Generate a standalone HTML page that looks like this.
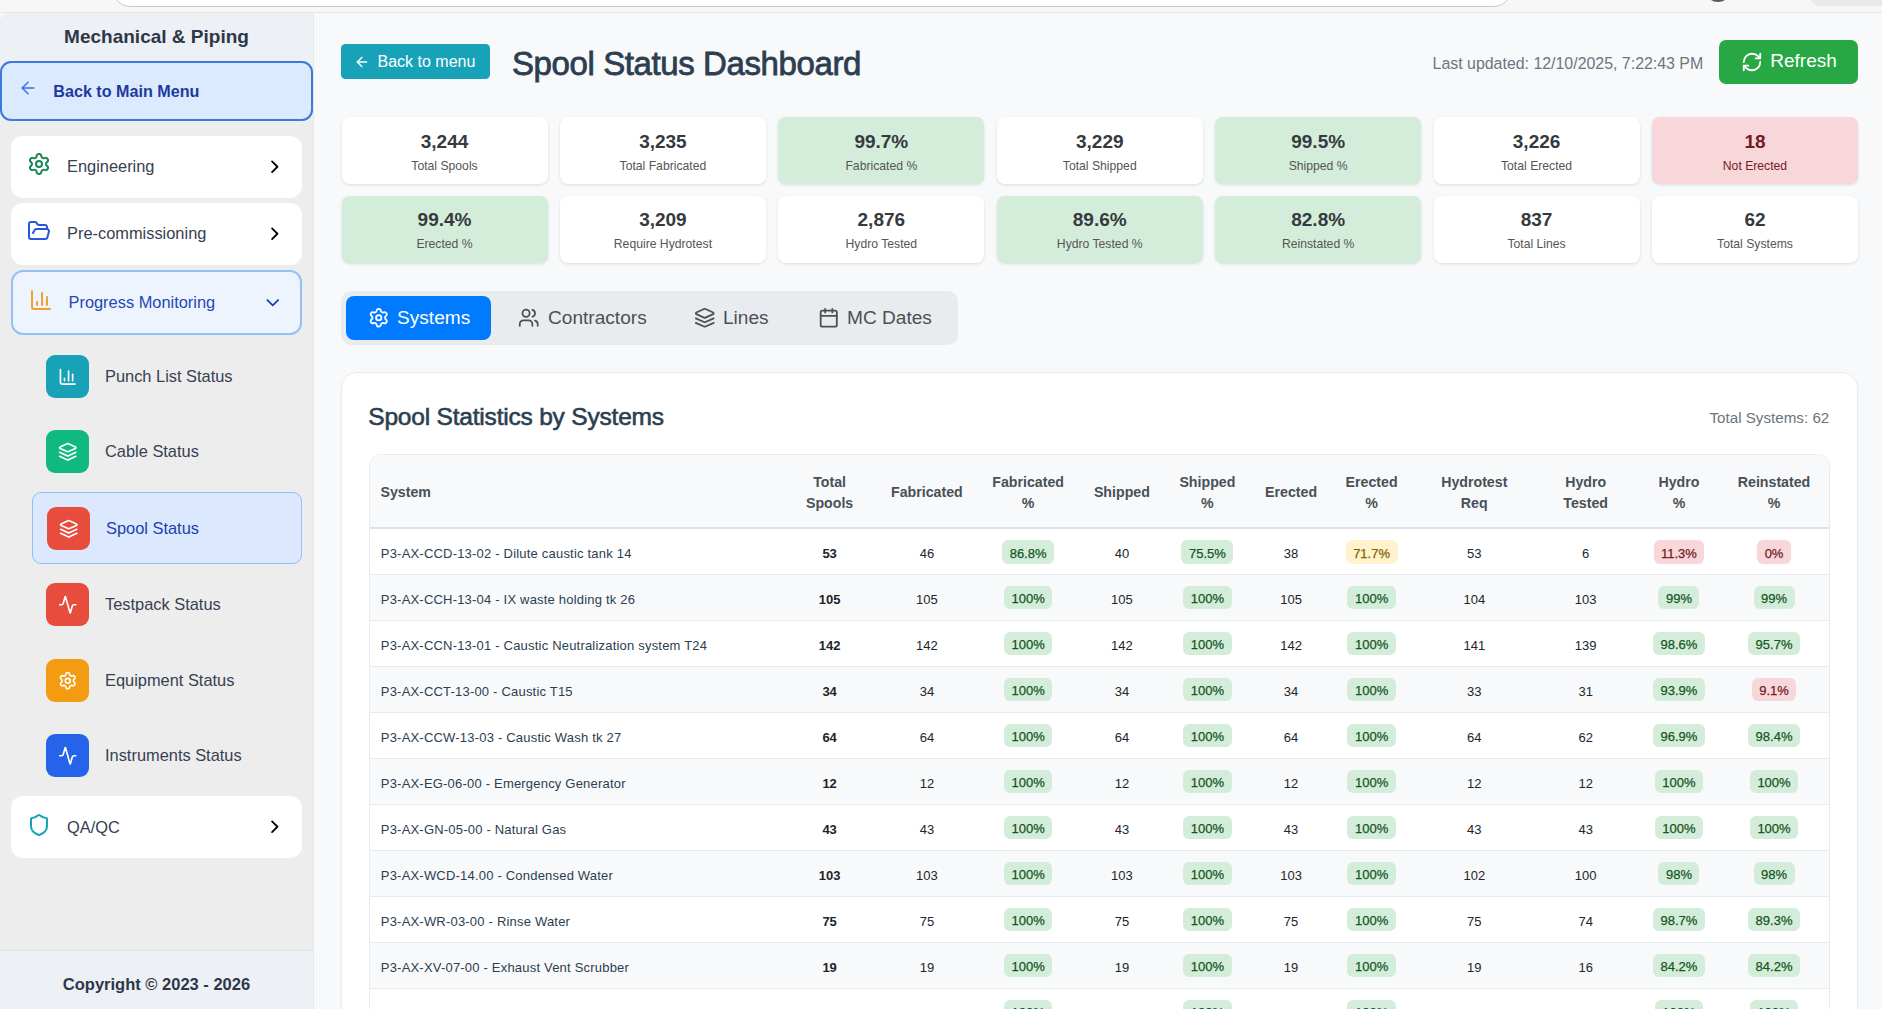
<!DOCTYPE html>
<html><head><meta charset="utf-8"><title>Spool Status Dashboard</title>
<style>
*{box-sizing:border-box;margin:0;padding:0}
html,body{width:1882px;height:1009px;overflow:hidden}
body{font-family:"Liberation Sans",sans-serif;background:#f8f9fa;position:relative;color:#2c3e50}
svg{display:block;position:absolute}
.a{position:absolute;white-space:nowrap}
/* top strip */
#top{position:absolute;left:0;top:0;width:1882px;height:13px;background:#f7f7f7;border-bottom:1px solid #e4e5e7}
#search{position:absolute;left:113px;top:-30px;width:1398px;height:37px;background:#fff;border:1.5px solid #c9c9c9;border-radius:17px}
#dot{position:absolute;left:1705.25px;top:-24px;width:25.5px;height:25.5px;border-radius:50%;background:#5a5a5a}
#pill{position:absolute;left:1809px;top:-20px;width:90px;height:26px;border-radius:12px;background:#e9e9e9}
/* sidebar */
#side{position:absolute;left:0;top:13px;width:314px;height:996px;background:#ededed;border-top-left-radius:9px;border-right:1px solid #e5e7ea;overflow:hidden}
#sidehead{position:absolute;left:0;top:0;width:313px;height:108px;background:#edf0f4}
#sidefoot{position:absolute;left:0;top:937px;width:313px;height:60px;background:#edf0f4;border-top:1px solid #dfe3e8}
#sidetitle{left:0;top:26.3px;width:313px;text-align:center;font-weight:bold;font-size:19px;color:#2d3748}
#backmain{position:absolute;left:0;top:61px;width:313px;height:60px;background:#dbeafe;border:2px solid #3b7ad9;border-radius:11px}
#backmain-t{left:53.3px;top:81.5px;font-weight:bold;font-size:16.15px;color:#1e3a9e}
.card{position:absolute;left:11px;width:291px;height:62px;background:#fff;border-radius:12px}
#pm{background:#eef4fe;border:2px solid #93c0f5;height:65px}
.lbl{font-size:16.4px;color:#374151;margin-top:-1.2px}
.sbox{position:absolute;width:43px;height:43px;border-radius:9px}
#spoolitem{position:absolute;left:32px;top:492px;width:270px;height:72px;background:#dbe8fd;border:1px solid #93c0f5;border-radius:9px}
#copy{left:0;top:975px;width:313px;text-align:center;font-weight:bold;font-size:16.5px;color:#2d3748}

/* main header */
#btnback{position:absolute;left:341px;top:44px;width:149px;height:35px;background:#17a2b8;border-radius:4.5px}
#btnback-t{left:377.5px;top:53px;font-size:16px;color:#fff}
#title{left:512px;top:44.5px;font-size:33px;letter-spacing:-0.4px;color:#2c3e50;-webkit-text-stroke:0.8px #2c3e50}
#upd{left:1432.6px;top:54.8px;font-size:15.92px;color:#6c757d}
#refresh{position:absolute;left:1719px;top:40px;width:139px;height:44px;background:#28a745;border-radius:7px}
#refresh-t{left:1770.3px;top:50px;font-size:19px;color:#fff}
/* stats */
#stats{position:absolute;left:341.5px;top:117px;width:1516.5px;display:grid;grid-template-columns:repeat(7,1fr);column-gap:12.4px;row-gap:11.8px}
.st{height:67px;background:#fff;border-radius:8px;box-shadow:0 1px 3px rgba(0,0,0,0.12);text-align:center;position:relative}
.st.g{background:#d4edda}
.st.r{background:#f8d7da}
.st .v{position:absolute;left:0;right:0;top:13.5px;font-weight:bold;font-size:19px;color:#343a40}
.st.r .v{color:#721c24}
.st .l{position:absolute;left:0;right:0;top:41.5px;font-size:12.2px;color:#555}
.st.r .l{color:#721c24}
/* tabs */
#tabs{position:absolute;left:341px;top:291px;width:617px;height:54px;background:#e9ecef;border-radius:10px}
#tabact{position:absolute;left:346px;top:296px;width:145px;height:44px;background:#007bff;border-radius:8px}
.tt{font-size:19.1px;color:#495057;top:307px}

/* table card */
#tcard{position:absolute;left:341px;top:372px;width:1517px;height:700px;background:#fff;border:1px solid #e9ecef;border-radius:16px;box-shadow:0 1px 3px rgba(0,0,0,0.04)}
#ttitle{left:368.3px;top:403.3px;font-size:24.5px;letter-spacing:-0.2px;color:#2c3e50;-webkit-text-stroke:0.6px #2c3e50}
#tcount{right:52.7px;top:409px;font-size:15.2px;color:#6c757d}
#twrap{position:absolute;left:369px;top:454px;width:1461px;height:600px;border:1px solid #e9ecef;border-radius:12px;overflow:hidden;background:#fff}
table{border-collapse:collapse;table-layout:fixed;width:1459px}
th{height:73px;background:#f8f9fa;border-bottom:2px solid #dee2e6;font-weight:bold;font-size:14.2px;line-height:20.3px;color:#495057;text-align:center;vertical-align:middle;padding:3px 0 0 0}
th.s{text-align:left;padding-left:10.5px}
td{height:46px;border-bottom:1px solid #e9ecef;font-size:13px;color:#212529;text-align:center;vertical-align:middle;padding:4.4px 0 0 0}
td.s{text-align:left;padding-left:10.8px;color:#2c3e50;letter-spacing:0.2px}
td.b{font-weight:bold}
tr:nth-child(even) td{background:#f8f9fa}
.bd{display:inline-block;padding:5.5px 7.5px 2px;border-radius:6px;font-weight:normal;-webkit-text-stroke:0.25px currentColor;font-size:13px;line-height:16px;position:relative;top:-1.5px}
.bd.g{background:#d4edda;color:#155724}
.bd.y{background:#fff3cd;color:#856404}
.bd.r{background:#f8d7da;color:#721c24}
</style></head>
<body>
<div id="top"><div id="search"></div><div id="dot"></div><div id="pill"></div></div>

<div id="side"><div id="sidehead"></div><div id="sidefoot"></div></div>
<div class="a" id="sidetitle">Mechanical &amp; Piping</div>
<div id="backmain"></div>
<svg style="left:17.5px;top:78.4px" width="20" height="20" viewBox="0 0 24 24" fill="none" stroke="#3b6fd8" stroke-width="1.8" stroke-linecap="round" stroke-linejoin="round"><path d="m12 19-7-7 7-7"/><path d="M19 12H5"/></svg>
<div class="a" id="backmain-t">Back to Main Menu</div>

<!-- Engineering -->
<div class="card" style="top:136px"></div>
<svg style="left:27px;top:152px" width="24" height="24" viewBox="0 0 24 24" fill="none" stroke="#198754" stroke-width="2" stroke-linecap="round" stroke-linejoin="round"><path d="M9.671 4.136a2.34 2.34 0 0 1 4.659 0 2.34 2.34 0 0 0 3.319 1.915 2.34 2.34 0 0 1 2.33 4.033 2.34 2.34 0 0 0 0 3.831 2.34 2.34 0 0 1-2.33 4.033 2.34 2.34 0 0 0-3.319 1.915 2.34 2.34 0 0 1-4.659 0 2.34 2.34 0 0 0-3.32-1.915 2.34 2.34 0 0 1-2.33-4.033 2.34 2.34 0 0 0 0-3.831A2.34 2.34 0 0 1 6.35 6.051a2.34 2.34 0 0 0 3.319-1.915"/><circle cx="12" cy="12" r="3"/></svg>
<div class="a lbl" style="left:67px;top:158px">Engineering</div>
<svg style="left:263.85px;top:155.85px" width="21.5" height="21.5" viewBox="0 0 24 24" fill="none" stroke="#000" stroke-width="2" stroke-linecap="round" stroke-linejoin="round"><path d="m9 18 6-6-6-6"/></svg>

<!-- Pre-commissioning -->
<div class="card" style="top:203px"></div>
<svg style="left:27px;top:219px" width="24" height="24" viewBox="0 0 24 24" fill="none" stroke="#2558d8" stroke-width="2" stroke-linecap="round" stroke-linejoin="round"><path d="m6 14 1.5-2.9A2 2 0 0 1 9.24 10H20a2 2 0 0 1 1.94 2.5l-1.54 6a2 2 0 0 1-1.95 1.5H4a2 2 0 0 1-2-2V5a2 2 0 0 1 2-2h3.9a2 2 0 0 1 1.69.9l.81 1.2a2 2 0 0 0 1.67.9H18a2 2 0 0 1 2 2v2"/></svg>
<div class="a lbl" style="left:67px;top:225px">Pre-commissioning</div>
<svg style="left:263.85px;top:222.85px" width="21.5" height="21.5" viewBox="0 0 24 24" fill="none" stroke="#000" stroke-width="2" stroke-linecap="round" stroke-linejoin="round"><path d="m9 18 6-6-6-6"/></svg>

<!-- Progress Monitoring -->
<div class="card" id="pm" style="top:270px"></div>
<svg style="left:29px;top:288px" width="24" height="24" viewBox="0 0 24 24" fill="none" stroke="#f0a030" stroke-width="2" stroke-linecap="round" stroke-linejoin="round"><path d="M3 3v16a2 2 0 0 0 2 2h16"/><path d="M18 17V9"/><path d="M13 17V5"/><path d="M8 17v-3"/></svg>
<div class="a lbl" style="left:68.5px;top:294px;color:#2447b8">Progress Monitoring</div>
<svg style="left:262.05px;top:292px" width="21.5" height="21.5" viewBox="0 0 24 24" fill="none" stroke="#1e40af" stroke-width="2" stroke-linecap="round" stroke-linejoin="round"><path d="m6 9 6 6 6-6"/></svg>

<!-- sub items -->
<div class="sbox" style="left:46px;top:355px;background:#17a2b8"></div>
<svg style="left:58px;top:367px" width="19.5" height="19.5" viewBox="0 0 24 24" fill="none" stroke="#fff" stroke-width="2" stroke-linecap="round" stroke-linejoin="round"><path d="M3 3v16a2 2 0 0 0 2 2h16"/><path d="M18 17V9"/><path d="M13 17V5"/><path d="M8 17v-3"/></svg>
<div class="a lbl" style="left:105px;top:368px">Punch List Status</div>

<div class="sbox" style="left:46px;top:430px;background:#10b981"></div>
<svg style="left:57.7px;top:441.7px" width="19.5" height="19.5" viewBox="0 0 24 24" fill="none" stroke="#fff" stroke-width="2" stroke-linecap="round" stroke-linejoin="round"><path d="m12.83 2.18a2 2 0 0 0-1.66 0L2.6 6.08a1 1 0 0 0 0 1.83l8.58 3.91a2 2 0 0 0 1.66 0l8.58-3.9a1 1 0 0 0 0-1.83Z"/><path d="m22 17.65-9.17 4.16a2 2 0 0 1-1.66 0L2 17.65"/><path d="m22 12.65-9.17 4.16a2 2 0 0 1-1.66 0L2 12.65"/></svg>
<div class="a lbl" style="left:105px;top:443.5px">Cable Status</div>

<div id="spoolitem"></div>
<div class="sbox" style="left:47px;top:507px;background:#e74c3c"></div>
<svg style="left:58.7px;top:518.7px" width="19.5" height="19.5" viewBox="0 0 24 24" fill="none" stroke="#fff" stroke-width="2" stroke-linecap="round" stroke-linejoin="round"><path d="m12.83 2.18a2 2 0 0 0-1.66 0L2.6 6.08a1 1 0 0 0 0 1.83l8.58 3.91a2 2 0 0 0 1.66 0l8.58-3.9a1 1 0 0 0 0-1.83Z"/><path d="m22 17.65-9.17 4.16a2 2 0 0 1-1.66 0L2 17.65"/><path d="m22 12.65-9.17 4.16a2 2 0 0 1-1.66 0L2 12.65"/></svg>
<div class="a lbl" style="left:106px;top:520px;color:#1e40af">Spool Status</div>

<div class="sbox" style="left:46px;top:583px;background:#e74c3c"></div>
<svg style="left:57.7px;top:594.7px" width="19.5" height="19.5" viewBox="0 0 24 24" fill="none" stroke="#fff" stroke-width="2" stroke-linecap="round" stroke-linejoin="round"><path d="M22 12h-2.48a2 2 0 0 0-1.93 1.46l-2.35 8.36a.25.25 0 0 1-.48 0L9.24 2.18a.25.25 0 0 0-.48 0l-2.35 8.36A2 2 0 0 1 4.49 12H2"/></svg>
<div class="a lbl" style="left:105px;top:596px">Testpack Status</div>

<div class="sbox" style="left:46px;top:659px;background:#f39c12"></div>
<svg style="left:57.7px;top:670.7px" width="19.5" height="19.5" viewBox="0 0 24 24" fill="none" stroke="#fff" stroke-width="2" stroke-linecap="round" stroke-linejoin="round"><path d="M9.671 4.136a2.34 2.34 0 0 1 4.659 0 2.34 2.34 0 0 0 3.319 1.915 2.34 2.34 0 0 1 2.33 4.033 2.34 2.34 0 0 0 0 3.831 2.34 2.34 0 0 1-2.33 4.033 2.34 2.34 0 0 0-3.319 1.915 2.34 2.34 0 0 1-4.659 0 2.34 2.34 0 0 0-3.32-1.915 2.34 2.34 0 0 1-2.33-4.033 2.34 2.34 0 0 0 0-3.831A2.34 2.34 0 0 1 6.35 6.051a2.34 2.34 0 0 0 3.319-1.915"/><circle cx="12" cy="12" r="3"/></svg>
<div class="a lbl" style="left:105px;top:672px">Equipment Status</div>

<div class="sbox" style="left:46px;top:734px;background:#2563eb"></div>
<svg style="left:57.7px;top:745.7px" width="19.5" height="19.5" viewBox="0 0 24 24" fill="none" stroke="#fff" stroke-width="2" stroke-linecap="round" stroke-linejoin="round"><path d="M22 12h-2.48a2 2 0 0 0-1.93 1.46l-2.35 8.36a.25.25 0 0 1-.48 0L9.24 2.18a.25.25 0 0 0-.48 0l-2.35 8.36A2 2 0 0 1 4.49 12H2"/></svg>
<div class="a lbl" style="left:105px;top:747.3px">Instruments Status</div>

<!-- QA/QC -->
<div class="card" style="top:796px"></div>
<svg style="left:27px;top:813px" width="24" height="24" viewBox="0 0 24 24" fill="none" stroke="#17a2b8" stroke-width="2" stroke-linecap="round" stroke-linejoin="round"><path d="M20 13c0 5-3.5 7.5-7.66 8.95a1 1 0 0 1-.67-.01C7.5 20.5 4 18 4 13V6a1 1 0 0 1 1-1c2 0 4.5-1.2 6.24-2.72a1.17 1.17 0 0 1 1.52 0C14.51 3.81 17 5 19 5a1 1 0 0 1 1 1z"/></svg>
<div class="a lbl" style="left:67px;top:819.5px">QA/QC</div>
<svg style="left:263.85px;top:816.15px" width="21.5" height="21.5" viewBox="0 0 24 24" fill="none" stroke="#000" stroke-width="2" stroke-linecap="round" stroke-linejoin="round"><path d="m9 18 6-6-6-6"/></svg>

<div class="a" id="copy">Copyright © 2023 - 2026</div>

<!-- MAIN -->

<div id="btnback"></div>
<svg style="left:353.8px;top:54.2px" width="16" height="16" viewBox="0 0 24 24" fill="none" stroke="#fff" stroke-width="2" stroke-linecap="round" stroke-linejoin="round"><path d="m12 19-7-7 7-7"/><path d="M19 12H5"/></svg>
<div class="a" id="btnback-t">Back to menu</div>
<div class="a" id="title">Spool Status Dashboard</div>
<div class="a" id="upd">Last updated: 12/10/2025, 7:22:43 PM</div>
<div id="refresh"></div>
<svg style="left:1741px;top:51px" width="22" height="22" viewBox="0 0 24 24" fill="none" stroke="#fff" stroke-width="2" stroke-linecap="round" stroke-linejoin="round"><path d="M3 12a9 9 0 0 1 9-9 9.75 9.75 0 0 1 6.74 2.74L21 8"/><path d="M21 3v5h-5"/><path d="M21 12a9 9 0 0 1-9 9 9.75 9.75 0 0 1-6.74-2.74L3 16"/><path d="M8 16H3v5"/></svg>
<div class="a" id="refresh-t">Refresh</div>

<div id="stats">
<div class="st"><div class="v">3,244</div><div class="l">Total Spools</div></div>
<div class="st"><div class="v">3,235</div><div class="l">Total Fabricated</div></div>
<div class="st g"><div class="v">99.7%</div><div class="l">Fabricated %</div></div>
<div class="st"><div class="v">3,229</div><div class="l">Total Shipped</div></div>
<div class="st g"><div class="v">99.5%</div><div class="l">Shipped %</div></div>
<div class="st"><div class="v">3,226</div><div class="l">Total Erected</div></div>
<div class="st r"><div class="v">18</div><div class="l">Not Erected</div></div>
<div class="st g"><div class="v">99.4%</div><div class="l">Erected %</div></div>
<div class="st"><div class="v">3,209</div><div class="l">Require Hydrotest</div></div>
<div class="st"><div class="v">2,876</div><div class="l">Hydro Tested</div></div>
<div class="st g"><div class="v">89.6%</div><div class="l">Hydro Tested %</div></div>
<div class="st g"><div class="v">82.8%</div><div class="l">Reinstated %</div></div>
<div class="st"><div class="v">837</div><div class="l">Total Lines</div></div>
<div class="st"><div class="v">62</div><div class="l">Total Systems</div></div>
</div>

<div id="tabs"></div>
<div id="tabact"></div>
<svg style="left:368px;top:307.3px" width="21.5" height="21.5" viewBox="0 0 24 24" fill="none" stroke="#fff" stroke-width="2" stroke-linecap="round" stroke-linejoin="round"><path d="M9.671 4.136a2.34 2.34 0 0 1 4.659 0 2.34 2.34 0 0 0 3.319 1.915 2.34 2.34 0 0 1 2.33 4.033 2.34 2.34 0 0 0 0 3.831 2.34 2.34 0 0 1-2.33 4.033 2.34 2.34 0 0 0-3.319 1.915 2.34 2.34 0 0 1-4.659 0 2.34 2.34 0 0 0-3.32-1.915 2.34 2.34 0 0 1-2.33-4.033 2.34 2.34 0 0 0 0-3.831A2.34 2.34 0 0 1 6.35 6.051a2.34 2.34 0 0 0 3.319-1.915"/><circle cx="12" cy="12" r="3"/></svg>
<div class="a tt" style="left:397px;color:#fff">Systems</div>
<svg style="left:518px;top:307px" width="21.5" height="21.5" viewBox="0 0 24 24" fill="none" stroke="#495057" stroke-width="2" stroke-linecap="round" stroke-linejoin="round"><path d="M16 21v-2a4 4 0 0 0-4-4H6a4 4 0 0 0-4 4v2"/><circle cx="9" cy="7" r="4"/><path d="M22 21v-2a4 4 0 0 0-3-3.87"/><path d="M16 3.13a4 4 0 0 1 0 7.75"/></svg>
<div class="a tt" style="left:548px">Contractors</div>
<svg style="left:694px;top:307px" width="21.5" height="21.5" viewBox="0 0 24 24" fill="none" stroke="#495057" stroke-width="2" stroke-linecap="round" stroke-linejoin="round"><path d="m12.83 2.18a2 2 0 0 0-1.66 0L2.6 6.08a1 1 0 0 0 0 1.83l8.58 3.91a2 2 0 0 0 1.66 0l8.58-3.9a1 1 0 0 0 0-1.83Z"/><path d="m22 17.65-9.17 4.16a2 2 0 0 1-1.66 0L2 17.65"/><path d="m22 12.65-9.17 4.16a2 2 0 0 1-1.66 0L2 12.65"/></svg>
<div class="a tt" style="left:723px">Lines</div>
<svg style="left:818px;top:307px" width="21.5" height="21.5" viewBox="0 0 24 24" fill="none" stroke="#495057" stroke-width="2" stroke-linecap="round" stroke-linejoin="round"><rect width="18" height="18" x="3" y="4" rx="2"/><path d="M16 2v4"/><path d="M8 2v4"/><path d="M3 10h18"/></svg>
<div class="a tt" style="left:847px">MC Dates</div>

<div id="tcard"></div>
<div class="a" id="ttitle">Spool Statistics by Systems</div>
<div class="a" id="tcount">Total Systems: 62</div>
<div id="twrap"><table><colgroup><col style="width:407.5px"><col style="width:104.2px"><col style="width:90.4px"><col style="width:112px"><col style="width:75.6px"><col style="width:95.4px"><col style="width:72px"><col style="width:89px"><col style="width:116.4px"><col style="width:106.4px"><col style="width:80.2px"><col style="width:109.9px"></colgroup>
<thead><tr><th class=s>System</th><th>Total<br>Spools</th><th>Fabricated</th><th>Fabricated<br>%</th><th>Shipped</th><th>Shipped<br>%</th><th>Erected</th><th>Erected<br>%</th><th>Hydrotest<br>Req</th><th>Hydro<br>Tested</th><th>Hydro<br>%</th><th>Reinstated<br>%</th></tr></thead>
<tbody>
<tr><td class="s">P3-AX-CCD-13-02 - Dilute caustic tank 14</td><td class="b">53</td><td>46</td><td><span class="bd g">86.8%</span></td><td>40</td><td><span class="bd g">75.5%</span></td><td>38</td><td><span class="bd y">71.7%</span></td><td>53</td><td>6</td><td><span class="bd r">11.3%</span></td><td><span class="bd r">0%</span></td></tr>
<tr><td class="s">P3-AX-CCH-13-04 - IX waste holding tk 26</td><td class="b">105</td><td>105</td><td><span class="bd g">100%</span></td><td>105</td><td><span class="bd g">100%</span></td><td>105</td><td><span class="bd g">100%</span></td><td>104</td><td>103</td><td><span class="bd g">99%</span></td><td><span class="bd g">99%</span></td></tr>
<tr><td class="s">P3-AX-CCN-13-01 - Caustic Neutralization system T24</td><td class="b">142</td><td>142</td><td><span class="bd g">100%</span></td><td>142</td><td><span class="bd g">100%</span></td><td>142</td><td><span class="bd g">100%</span></td><td>141</td><td>139</td><td><span class="bd g">98.6%</span></td><td><span class="bd g">95.7%</span></td></tr>
<tr><td class="s">P3-AX-CCT-13-00 - Caustic T15</td><td class="b">34</td><td>34</td><td><span class="bd g">100%</span></td><td>34</td><td><span class="bd g">100%</span></td><td>34</td><td><span class="bd g">100%</span></td><td>33</td><td>31</td><td><span class="bd g">93.9%</span></td><td><span class="bd r">9.1%</span></td></tr>
<tr><td class="s">P3-AX-CCW-13-03 - Caustic Wash tk 27</td><td class="b">64</td><td>64</td><td><span class="bd g">100%</span></td><td>64</td><td><span class="bd g">100%</span></td><td>64</td><td><span class="bd g">100%</span></td><td>64</td><td>62</td><td><span class="bd g">96.9%</span></td><td><span class="bd g">98.4%</span></td></tr>
<tr><td class="s">P3-AX-EG-06-00 - Emergency Generator</td><td class="b">12</td><td>12</td><td><span class="bd g">100%</span></td><td>12</td><td><span class="bd g">100%</span></td><td>12</td><td><span class="bd g">100%</span></td><td>12</td><td>12</td><td><span class="bd g">100%</span></td><td><span class="bd g">100%</span></td></tr>
<tr><td class="s">P3-AX-GN-05-00 - Natural Gas</td><td class="b">43</td><td>43</td><td><span class="bd g">100%</span></td><td>43</td><td><span class="bd g">100%</span></td><td>43</td><td><span class="bd g">100%</span></td><td>43</td><td>43</td><td><span class="bd g">100%</span></td><td><span class="bd g">100%</span></td></tr>
<tr><td class="s">P3-AX-WCD-14.00 - Condensed Water</td><td class="b">103</td><td>103</td><td><span class="bd g">100%</span></td><td>103</td><td><span class="bd g">100%</span></td><td>103</td><td><span class="bd g">100%</span></td><td>102</td><td>100</td><td><span class="bd g">98%</span></td><td><span class="bd g">98%</span></td></tr>
<tr><td class="s">P3-AX-WR-03-00 - Rinse Water</td><td class="b">75</td><td>75</td><td><span class="bd g">100%</span></td><td>75</td><td><span class="bd g">100%</span></td><td>75</td><td><span class="bd g">100%</span></td><td>75</td><td>74</td><td><span class="bd g">98.7%</span></td><td><span class="bd g">89.3%</span></td></tr>
<tr><td class="s">P3-AX-XV-07-00 - Exhaust Vent Scrubber</td><td class="b">19</td><td>19</td><td><span class="bd g">100%</span></td><td>19</td><td><span class="bd g">100%</span></td><td>19</td><td><span class="bd g">100%</span></td><td>19</td><td>16</td><td><span class="bd g">84.2%</span></td><td><span class="bd g">84.2%</span></td></tr>
<tr><td class="s">P3-AX-SA-08-00 - Sulfuric Acid</td><td class="b">24</td><td>24</td><td><span class="bd g">100%</span></td><td>24</td><td><span class="bd g">100%</span></td><td>24</td><td><span class="bd g">100%</span></td><td>24</td><td>24</td><td><span class="bd g">100%</span></td><td><span class="bd g">100%</span></td></tr>
</tbody></table></div>

</body></html>
